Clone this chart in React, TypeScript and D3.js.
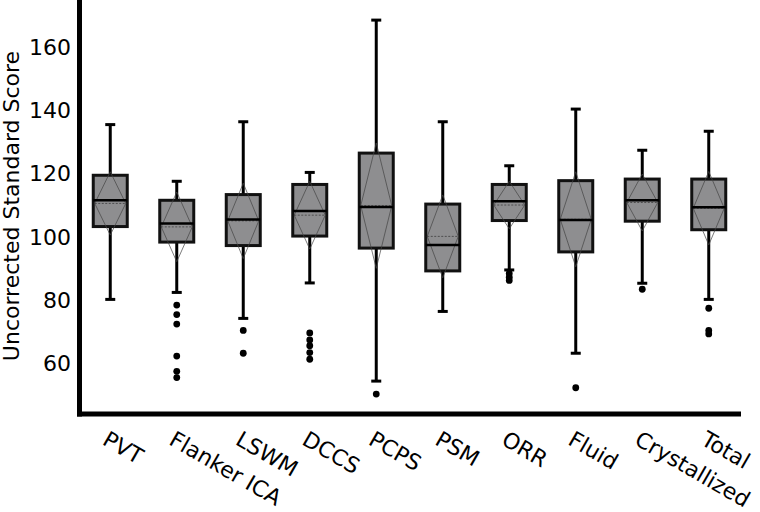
import React from "react";
import * as d3 from "d3";

const categories = ["PVT", "Flanker ICA", "LSWM", "DCCS", "PCPS", "PSM", "ORR", "Fluid", "Crystallized", "Total"];
const whiskerLow = [80.2, 82.4, 74.2, 85.4, 54.4, 76.4, 89.5, 63.2, 85.3, 80.2];
const q1 = [103.2, 98.3, 97.2, 100.2, 96.4, 89.2, 105.1, 95.2, 104.9, 102.2];
const medians = [111.5, 104.2, 105.4, 108.1, 109.4, 97.4, 111.2, 105.3, 111.5, 109.3];
const q3 = [119.4, 111.5, 113.3, 116.5, 126.4, 110.3, 116.5, 117.7, 118.2, 118.2];
const whiskerHigh = [135.4, 117.5, 136.3, 120.3, 168.4, 136.3, 122.4, 140.3, 127.3, 133.3];
const means = [110.5, 103.1, 105.0, 106.8, 109.8, 100.1, 110.0, 105.5, 110.8, 109.0];
const sds = [10.0, 11.0, 11.9, 10.7, 19.8, 13.1, 7.5, 15.0, 9.0, 11.6];
const outliers = [
  [],
  [78.4, 75.4, 72.4, 62.3, 57.5, 55.5],
  [70.4, 63.2],
  [69.6, 67.4, 65.6, 63.4, 61.3],
  [50.3],
  [],
  [88.4, 87.2, 86.2],
  [52.3],
  [83.4],
  [77.4, 70.4, 69.3],
];
const yTicks = [60, 80, 100, 120, 140, 160];

const W = 760;
const H = 512;
const FONT = "'DejaVu Sans', Verdana, sans-serif";

export default function App() {
  const y = d3.scaleLinear().domain([100, 160]).range([236.7, 46.7]);
  const x = d3.scaleBand<string>().domain(categories).range([77, 742]).paddingInner(0).paddingOuter(0);
  const bw = 34;
  const axisBottomY = 414;
  const axisLeftX = 79.5;

  return (
    <svg width={W} height={H} style={{ position: "absolute", left: 0, top: 0, background: "#fff" }}>
      {/* boxes */}
      {categories.map((c, i) => {
        const cx = (x(c) as number) + x.bandwidth() / 2;
        const l = cx - bw / 2;
        const r = cx + bw / 2;
        const dTop = y(means[i] + sds[i]);
        const dBot = y(means[i] - sds[i]);
        const dMid = y(means[i]);
        return (
          <g key={c}>
            <line x1={cx} x2={cx} y1={y(whiskerHigh[i])} y2={y(q3[i])} stroke="#000" strokeWidth={3} />
            <line x1={cx} x2={cx} y1={y(q1[i])} y2={y(whiskerLow[i])} stroke="#000" strokeWidth={3} />
            <line x1={cx - 5} x2={cx + 5} y1={y(whiskerHigh[i])} y2={y(whiskerHigh[i])} stroke="#000" strokeWidth={3} />
            <line x1={cx - 5} x2={cx + 5} y1={y(whiskerLow[i])} y2={y(whiskerLow[i])} stroke="#000" strokeWidth={3} />
            <rect x={l} y={y(q3[i])} width={bw} height={y(q1[i]) - y(q3[i])} fill="#8e8e90" stroke="#111" strokeWidth={3} />
            <path
              d={`M${cx},${dTop} L${r - 1.5},${dMid} L${cx},${dBot} L${l + 1.5},${dMid} Z`}
              fill="none"
              stroke="#444"
              strokeWidth={0.7}
            />
            <line x1={l + 1.5} x2={r - 1.5} y1={dMid} y2={dMid} stroke="#333" strokeWidth={0.7} strokeDasharray="2,1.5" />
            <line x1={l} x2={r} y1={y(medians[i])} y2={y(medians[i])} stroke="#000" strokeWidth={2.5} />
            {outliers[i].map((v, j) => (
              <circle key={j} cx={cx} cy={y(v)} r={3.4} fill="#000" />
            ))}
          </g>
        );
      })}
      {/* axes */}
      <line x1={axisLeftX} x2={axisLeftX} y1={0} y2={axisBottomY + 2.5} stroke="#000" strokeWidth={5} />
      <line x1={axisLeftX - 2.5} x2={741} y1={axisBottomY} y2={axisBottomY} stroke="#000" strokeWidth={5} />
      {/* y ticks */}
      {yTicks.map((t) => (
        <text key={t} x={71} y={y(t)} dy="0.36em" textAnchor="end" fontFamily={FONT} fontSize={22} fill="#000">
          {t}
        </text>
      ))}
      <text
        transform={`translate(19,206) rotate(-90)`}
        textAnchor="middle"
        fontFamily={FONT}
        fontSize={22}
        fill="#000"
      >
        Uncorrected Standard Score
      </text>
      {/* x labels */}
      {categories.map((c) => {
        const cx = (x(c) as number) + x.bandwidth() / 2;
        return (
          <text
            key={c}
            transform={`translate(${cx - 1},430) rotate(30)`}
            y={16}
            textAnchor="start"
            fontFamily={FONT}
            fontSize={22}
            fill="#000"
          >
            {c}
          </text>
        );
      })}
    </svg>
  );
}
